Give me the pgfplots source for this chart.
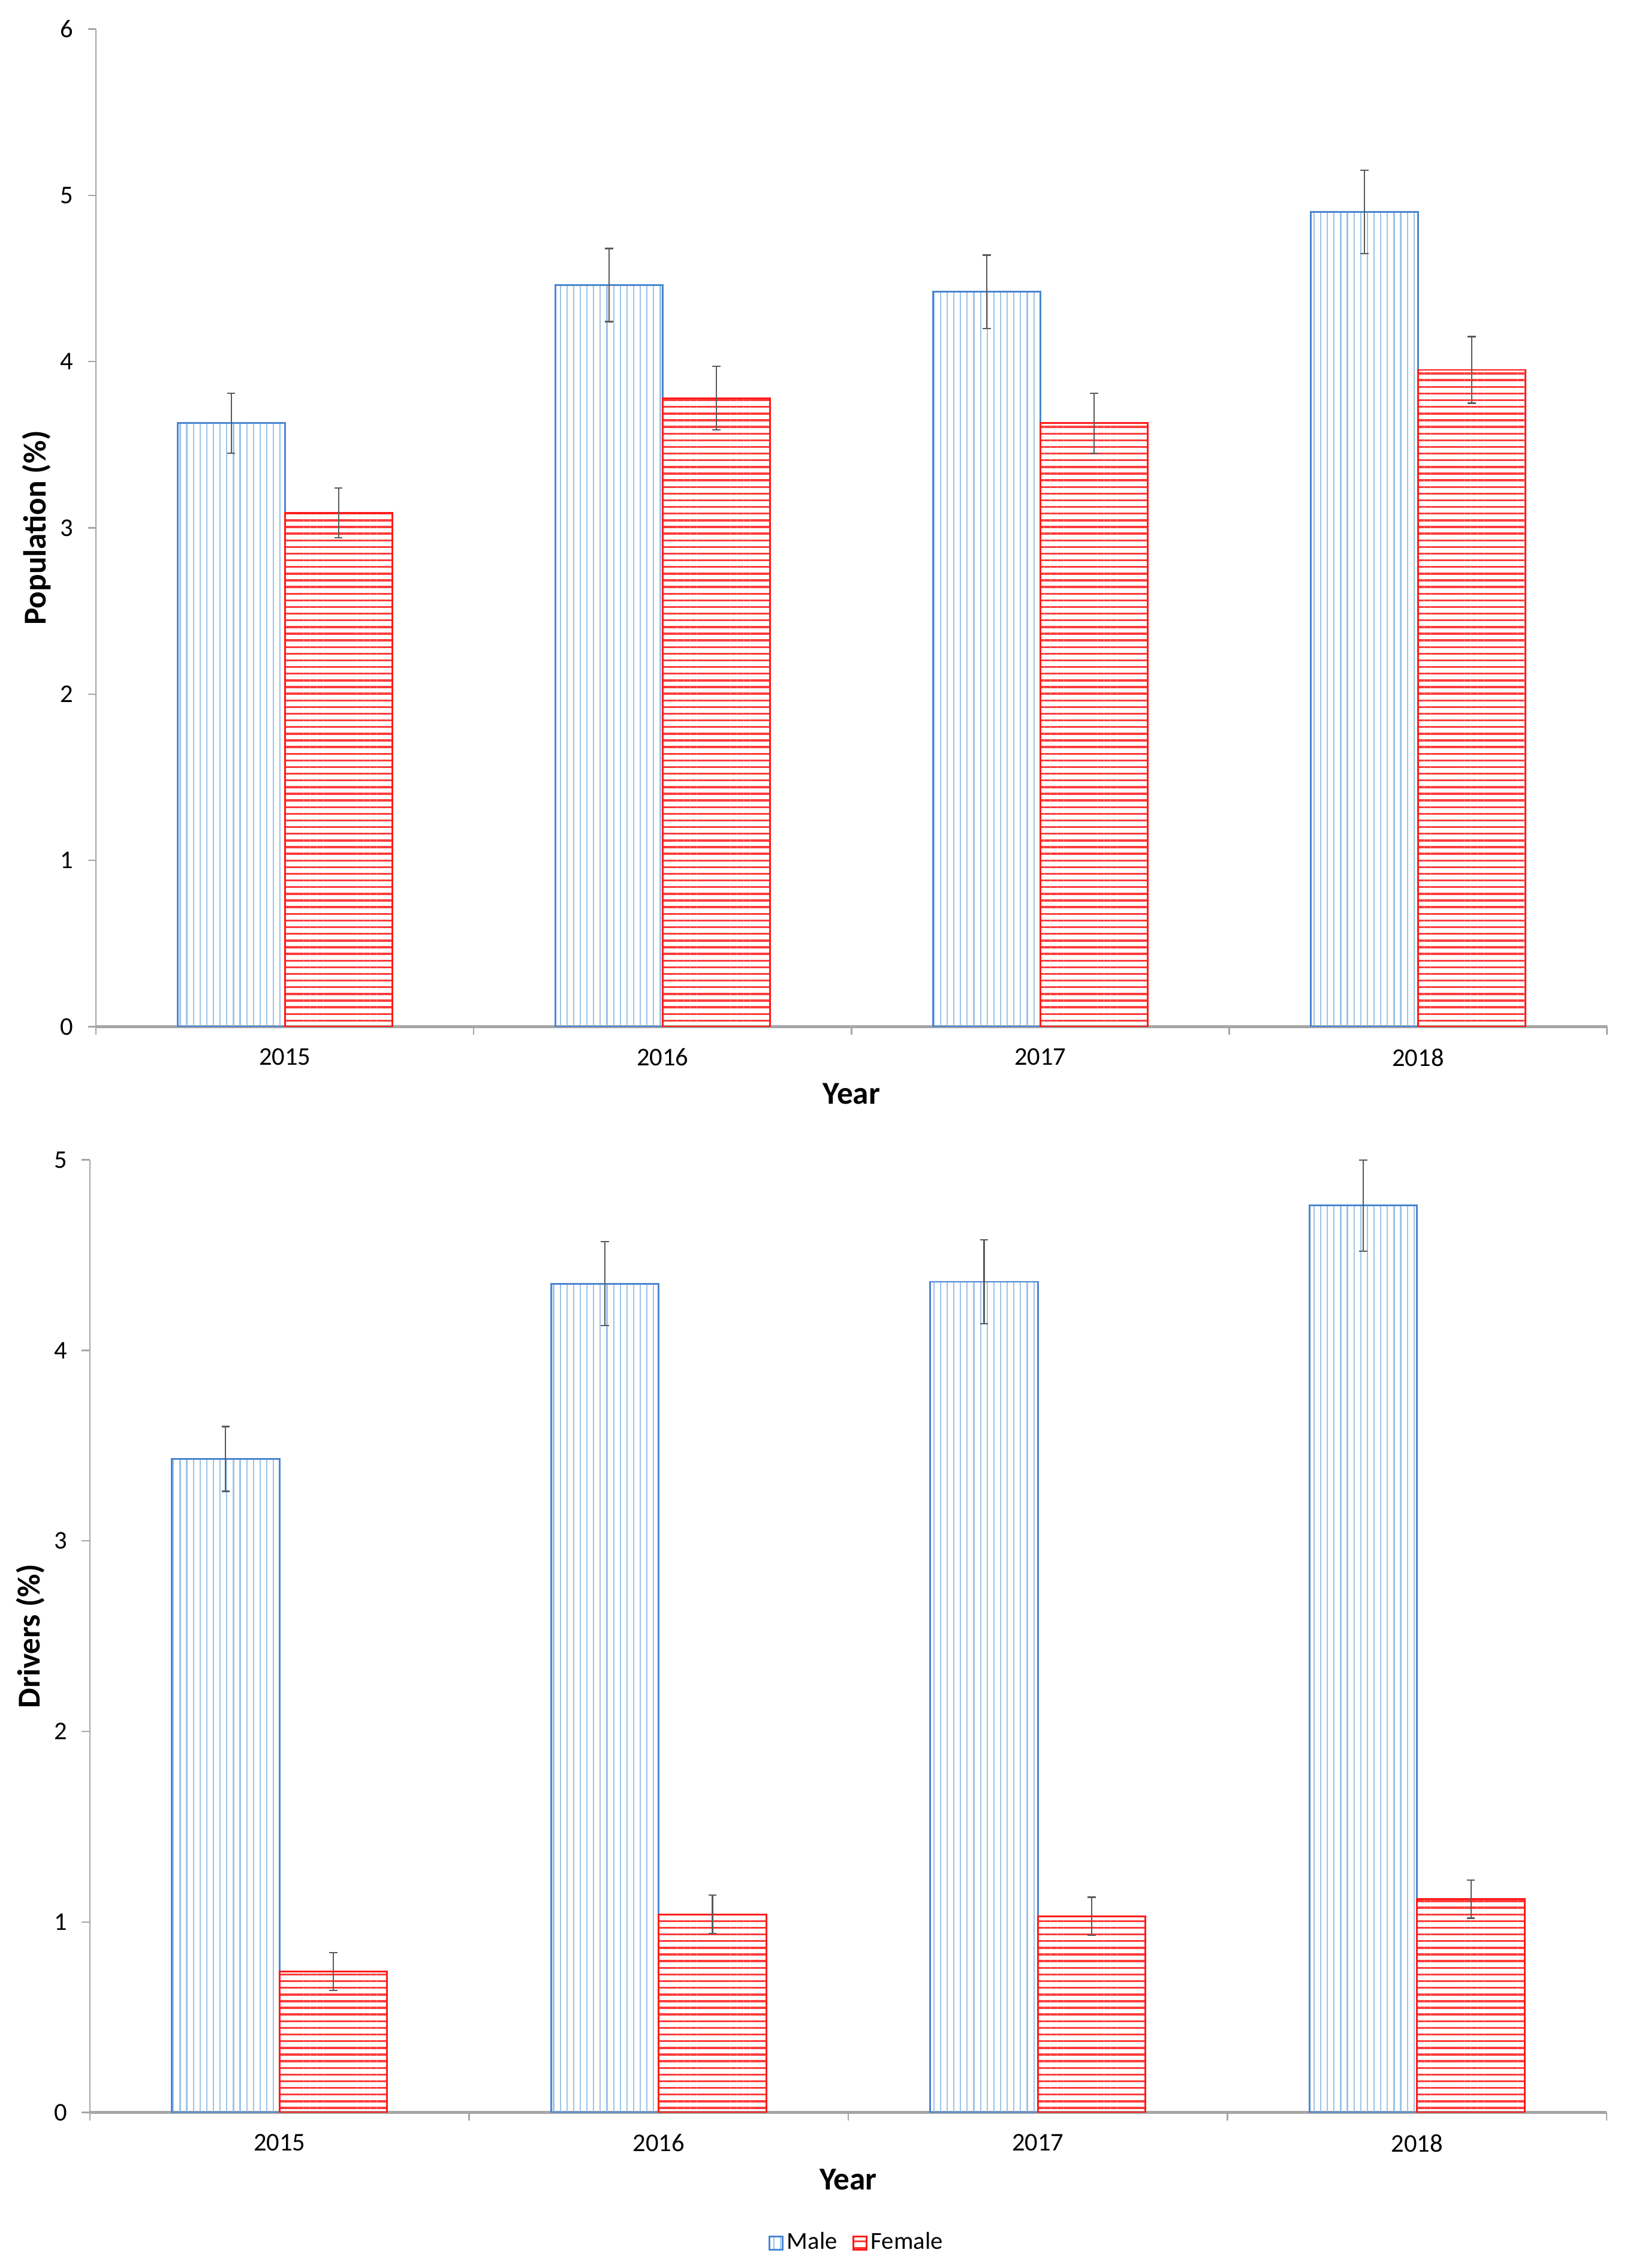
\documentclass[border=0pt]{standalone}
\usepackage{pgfplots}
\pgfplotsset{compat=1.18}
\usepackage{pgfplotstable}
\usepackage{fontspec}
\setmainfont{Carlito}
\usetikzlibrary{patterns.meta}

\definecolor{maleline}{HTML}{4A86D0}
\definecolor{malefill}{HTML}{9DC3E6}
\definecolor{femred}{HTML}{FF1A1A}
\definecolor{femfill}{HTML}{FF3B3B}
\definecolor{errgray}{HTML}{595959}
\definecolor{axgray}{HTML}{A6A6A6}

\pgfplotstableread{
x m me f fe
0 3.63 0.18 3.09 0.15
1 4.46 0.22 3.78 0.19
2 4.42 0.22 3.63 0.18
3 4.90 0.25 3.95 0.20
}\toptab
\pgfplotstableread{
x m me f fe
0 3.43 0.17 0.74 0.10
1 4.35 0.22 1.04 0.10
2 4.36 0.22 1.03 0.10
3 4.76 0.24 1.12 0.10
}\bottab

\pgfplotsset{
  excelbar/.style={
    scale only axis,
    ybar,
    xmin=-0.5, xmax=3.5,
    ymin=0,
    axis lines*=left,
    x axis line style={draw=axgray, line width=1.1pt},
    y axis line style={draw=axgray, line width=0.5pt},
    xtick={-0.5,0.5,1.5,2.5,3.5},
    x tick label as interval,
    xticklabels={2015,2016,2017,2018},
    tick align=outside,
    major tick length=2.8pt,
    tick style={draw=axgray, line width=0.5pt},
    /pgf/number format/assume math mode=true,
    ticklabel style={font=\fontsize{8.8}{10}\selectfont},
    xticklabel style={yshift=-1.2pt},
    yticklabel style={xshift=-1.5pt},
    label style={font=\bfseries\fontsize{11}{13}\selectfont},
    xlabel style={yshift=1pt},
    ylabel style={yshift=-3.5pt},
    error bars/y dir=both,
    error bars/y explicit,
    error bars/error bar style={errgray, line width=0.45pt},
    error bars/error mark options={rotate=90, errgray, mark size=1.4pt, line width=0.45pt},
    legend image code/.code={\draw[#1] (0pt,-2.3pt) rectangle (4.6pt,2.3pt);},
  },
  maleplot/.style={draw=maleline, line width=0.6pt,
    pattern={Lines[angle=90,distance=2.3pt,line width=0.45pt]}, pattern color=malefill,
    bar width=0.284, bar shift=-0.142},
  femplot/.style={draw=femred, line width=0.6pt,
    pattern={Lines[angle=0,distance=2.3pt,line width=0.7pt]}, pattern color=femfill,
    bar width=0.284, bar shift=0.142},
}

\begin{document}
\begin{tikzpicture}
\path[use as bounding box] (0,0) rectangle (565pt,782pt);

\begin{axis}[excelbar,
  at={(33.1pt,428pt)}, anchor=south west,
  width=521pt, height=344pt,
  ymax=6, ytick={0,1,2,3,4,5,6},
  xlabel={Year}, ylabel={Population (\%)}]
\addplot[maleplot] table[x=x, y=m, y error=me] {\toptab};
\addplot[femplot] table[x=x, y=f, y error=fe] {\toptab};
\end{axis}

\begin{axis}[excelbar,
  at={(31pt,53.6pt)}, anchor=south west,
  width=523pt, height=328.5pt,
  ymax=5, ytick={0,1,2,3,4,5},
  xlabel={Year}, ylabel={Drivers (\%)},
  legend style={at={(0.506,-0.137)}, anchor=center, draw=none,
    font=\fontsize{8.4}{9}\selectfont, legend columns=2,
    nodes={inner sep=1.2pt},
    /tikz/every even column/.append style={column sep=4pt}}]
\addplot[maleplot] table[x=x, y=m, y error=me] {\bottab};
\addlegendentry{Male}
\addplot[femplot] table[x=x, y=f, y error=fe] {\bottab};
\addlegendentry{Female}
\end{axis}
\end{tikzpicture}
\end{document}
